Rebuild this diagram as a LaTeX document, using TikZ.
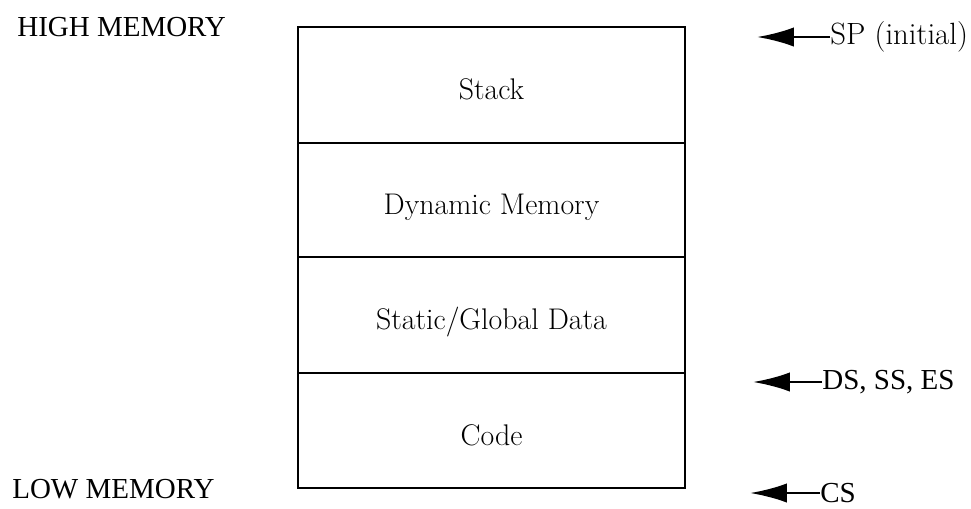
\documentclass[tikz,border=0pt]{standalone}
\usepackage{fontspec}
\newfontfamily\timesfont{Liberation Serif}
\usetikzlibrary{arrows.meta,positioning}
\begin{document}
\begin{tikzpicture}
[x=0.02cm,y=-0.02cm,
block/.style={rectangle,draw,line width=1.2pt,minimum width=387*0.02cm,inner sep=0pt,outer sep=0pt,text height=16.6pt,text depth=0pt,font=\fontsize{17}{20}\selectfont},
side/.style={font=\timesfont\fontsize{16.5}{19}\selectfont,inner sep=0pt},
ptr/.style={anchor=west,inner sep=0pt,font=\fontsize{17.5}{20}\selectfont},
reg/.style={anchor=west,inner sep=0pt,font=\timesfont\fontsize{16.5}{19}\selectfont},
tip/.style={line width=1.6pt,-{Latex[length=21pt,width=11pt]}}]
\useasboundingbox (0,0) rectangle (971,508);
%memory blocks
	\node[block,minimum height=116*0.02cm,anchor=north west] (stack) at (298,27) {Stack};
	\node[block,minimum height=114*0.02cm,below=0pt of stack] (heap) {Dynamic Memory};
	\node[block,minimum height=116*0.02cm,below=0pt of heap] (data) {Static/Global Data};
	\node[block,minimum height=115*0.02cm,below=0pt of data] (code) {Code};
%ends
	\node[side,anchor=west] (high) at (17,27) {HIGH MEMORY};
	\node[side,anchor=west] (low) at (12,489) {LOW MEMORY};
%registers
	\node[ptr] (sp) at (830,37) {SP (initial)};
	\node[reg] (ds) at (822,382) {DS, SS, ES};
	\node[reg] (cs) at (820,493) {CS};
	\coordinate (sptip) at (757,37);
	\coordinate (dstip) at (753,382);
	\coordinate (cstip) at (750,493);
	\draw[tip] (sp.west) -- (sptip);
	\draw[tip] (ds.west) -- (dstip);
	\draw[tip] (cs.west) -- (cstip);
\end{tikzpicture}
\end{document}
